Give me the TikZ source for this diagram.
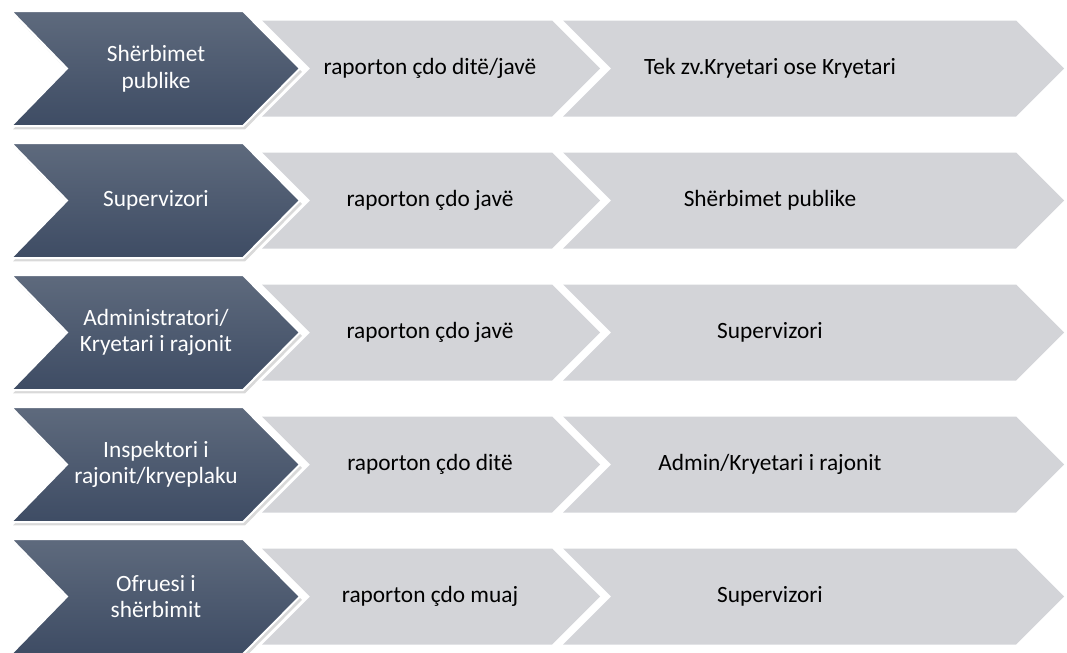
\documentclass[tikz,border=0pt]{standalone}
\usepackage{fontspec}
\setmainfont{Carlito}
\usetikzlibrary{shadows}

\definecolor{slatetop}{HTML}{5E6A7D}
\definecolor{slatemid}{HTML}{46546C}
\definecolor{slatebot}{HTML}{3E4C64}
\definecolor{chevgrey}{HTML}{D3D4D8}

\tikzset{
	darkchev/.style={top color=slatetop, middle color=slatemid, bottom color=slatebot, draw=white, line width=1.5pt,
		drop shadow={shadow xshift=1.5pt, shadow yshift=-2.5pt, opacity=0.3}},
	greychev/.style={fill=chevgrey},
	darklabel/.style={text=white, align=center, font=\fontsize{17.5}{20}\selectfont},
	greylabel/.style={text=black, align=center, font=\fontsize{17.5}{20}\selectfont}
}

\begin{document}
\begin{tikzpicture}[x=0.75pt, y=-0.75pt]
		\useasboundingbox (0,0) rectangle (1067,653);
		
		% Rows
		\foreach \y/\who/\how/\whom [count=\n] in {
			68.5/{Shërbimet\\publike}/{raporton çdo ditë/javë}/{Tek zv.Kryetari ose Kryetari},
			200.5/{Supervizori}/{raporton çdo javë}/{Shërbimet publike},
			332.5/{Administratori/\\Kryetari i rajonit}/{raporton çdo javë}/{Supervizori},
			464.5/{Inspektori i\\rajonit/kryeplaku}/{raporton çdo ditë}/{Admin/Kryetari i rajonit},
			596.5/{Ofruesi i\\shërbimit}/{raporton çdo muaj}/{Supervizori}} {
			% grey chevrons
			\fill[greychev] (262,\y-48) -- (552,\y-48) -- (600,\y) -- (552,\y+48) -- (262,\y+48) -- (310,\y) -- cycle;
			\fill[greychev] (563,\y-48) -- (1016,\y-48) -- (1064,\y) -- (1016,\y+48) -- (563,\y+48) -- (611,\y) -- cycle;
			% dark chevron
			\draw[darkchev] (11,\y-57.5) -- (243,\y-57.5) -- (300,\y) -- (243,\y+57.5) -- (11,\y+57.5) -- (67,\y) -- cycle;
			\node[darklabel] (who\n) at (156,\y) {\who};
			\node[greylabel] (how\n) at (430,\y) {\how};
			\node[greylabel] (whom\n) at (770,\y) {\whom};
		}
	\end{tikzpicture}
\end{document}
